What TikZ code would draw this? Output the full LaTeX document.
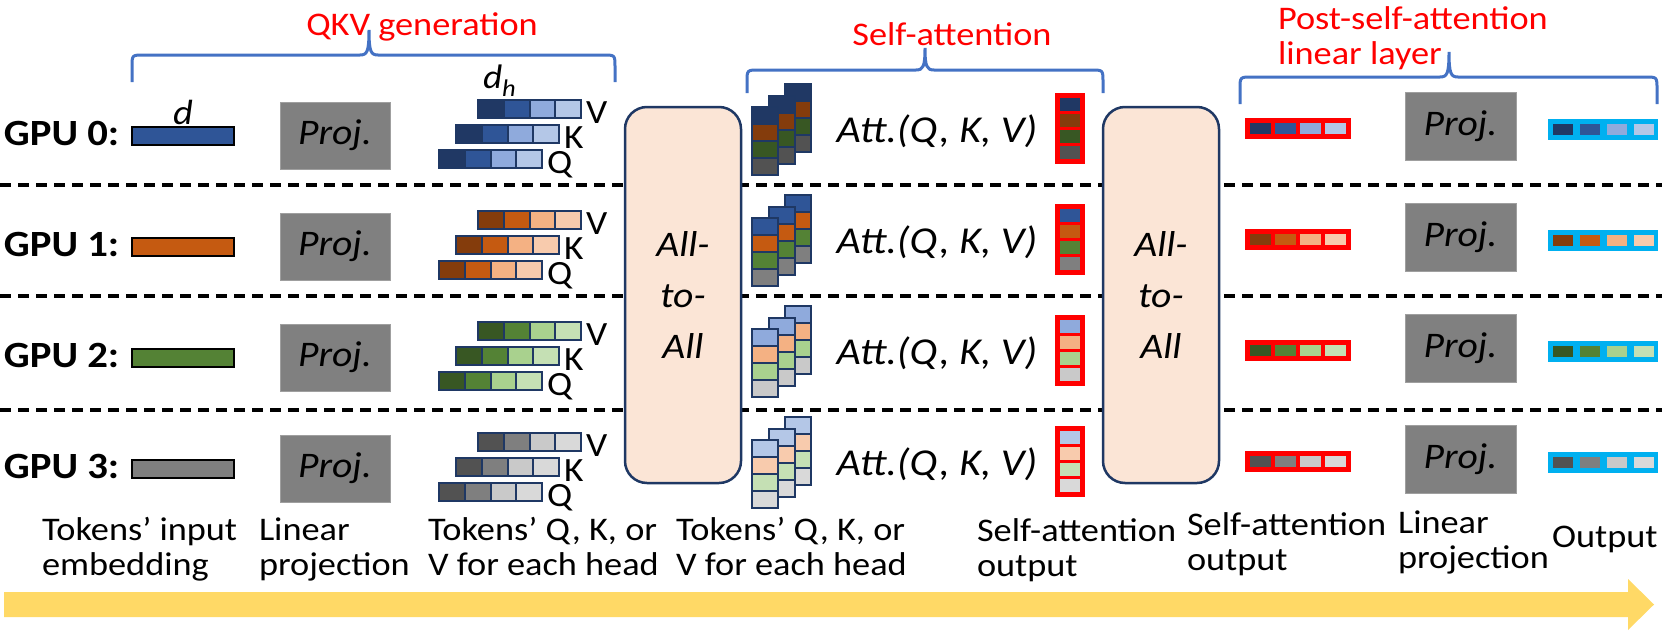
\documentclass[tikz,border=0pt]{standalone}
\usepackage{fontspec}
\setmainfont{Carlito}[FakeStretch=1.1]
\definecolor{c01}{HTML}{203864}
\definecolor{c02}{HTML}{2F5597}
\definecolor{c03}{HTML}{8FAADC}
\definecolor{c04}{HTML}{B4C7E7}
\definecolor{c11}{HTML}{843C0C}
\definecolor{c12}{HTML}{C55A11}
\definecolor{c13}{HTML}{F4B183}
\definecolor{c14}{HTML}{F8CBAD}
\definecolor{c21}{HTML}{385723}
\definecolor{c22}{HTML}{548235}
\definecolor{c23}{HTML}{A9D18E}
\definecolor{c24}{HTML}{C5E0B4}
\definecolor{c31}{HTML}{525252}
\definecolor{c32}{HTML}{7F7F7F}
\definecolor{c33}{HTML}{C9C9C9}
\definecolor{c34}{HTML}{D9D9D9}
\definecolor{navy}{HTML}{1F3864}
\definecolor{bracec}{HTML}{4472C4}
\definecolor{peach}{HTML}{FBE5D6}
\definecolor{projgray}{HTML}{808080}
\definecolor{cyanb}{HTML}{00B0F0}
\definecolor{arrowy}{HTML}{FFD966}
\definecolor{redc}{HTML}{FF0000}
\newcommand\twoline[2]{\begin{tabular}[t]{@{}l@{}}#1\\#2\end{tabular}}
\newcommand\mybrace[6]{%
  \draw[bracestyle] (#1,#5) -- (#1,#4+12) .. controls (#1,#4) and (#1,#4) .. (#1+12,#4)
    -- (#3-9,#4) .. controls (#3-2,#4) and (#3,#4-3) .. (#3,#6)
    .. controls (#3,#4-3) and (#3+2,#4) .. (#3+9,#4)
    -- (#2-12,#4) .. controls (#2,#4) and (#2,#4) .. (#2,#4+12) -- (#2,#5);}
\begin{document}
\begin{tikzpicture}[x=1pt,y=-1pt,
  every node/.style={inner sep=0pt,outer sep=0pt},
  txt/.style={font=\fontsize{33}{35}\selectfont},
  redlab/.style={txt,text=redc},
  gpu/.style={font=\fontsize{37}{40}\selectfont\bfseries},
  projbox/.style={fill=projgray,draw=gray!75,line width=1pt,minimum width=110pt,minimum height=67pt,font=\fontsize{36}{38}\selectfont\itshape},
  a2a/.style={fill=peach,draw=navy,line width=2.5pt,rounded corners=22pt,minimum width=116pt,minimum height=376pt,align=center,font=\fontsize{36}{51}\selectfont\itshape},
  att/.style={font=\fontsize{38}{40}\selectfont\itshape},
  vkq/.style={font=\fontsize{34}{36}\selectfont},
  qcell/.style={draw=navy,line width=2pt},
  incell/.style={draw=black,line width=2.5pt},
  dashline/.style={line width=4pt,dash pattern=on 11pt off 7pt},
  bracestyle/.style={draw=bracec,line width=3pt},
]
\useasboundingbox (0,0) rectangle (1662,632);
\foreach \yy in {185,296,410} \draw[dashline] (0,\yy) -- (1662,\yy);
% braces and headers
\mybrace{132}{615}{369}{55}{82}{30}
\mybrace{747}{1103}{925}{70}{93}{48}
\mybrace{1240}{1657}{1449}{77}{104}{52}
\node[redlab,anchor=base] (qkvlab) at (422,35) {QKV generation};
\node[redlab,anchor=base] (salab) at (952,45) {Self-attention};
\node[redlab,anchor=base west] (postlab) at (1278,29) {\twoline{Post-self-attention}{linear layer}};
% all-to-all boxes
\node[a2a] (a2a1) at (683,295) {All-\\to-\\All};
\node[a2a] (a2a2) at (1161,295) {All-\\to-\\All};
% rows
\foreach \r/\rc in {0/136,1/247,2/358,3/469}{
  \pgfmathtruncatemacro\s{\r+1}
  \node[gpu,anchor=base west] (gpu\r) at (4,\rc+9) {GPU \r:};
  \filldraw[incell,fill=c\r2] (132,\rc-9) rectangle (234,\rc+9);
  \node[projbox] (pl\r) at (335,\rc-0.5) {Proj.};
  \foreach \k/\xx/\dy/\lab in {0/478/-36/V,1/456/-11/K,2/439/14/Q}{
    \foreach \j in {1,...,4}{
      \filldraw[qcell,fill=c\r\j] (\xx+25.75*\j-25.75,\rc+\dy) rectangle (\xx+25.75*\j,\rc+\dy+18);
    }
    \node[vkq,anchor=base west] (lab\r\k) at (\xx+108,\rc+\dy+23) {\lab};
  }
  \foreach \c in {2,1,0}{
    \foreach \i in {0,...,3}{
      \filldraw[qcell,fill=c\i\s] (752+16.5*\c,\rc-29-11.5*\c+17*\i) rectangle ++(26,17);
    }
  }
  \node[att,anchor=base] (att\r) at (937,\rc+6) {Att.(Q, K, V)};
  \fill[redc] (1055,\rc-43) rectangle (1085,\rc+28);
  \foreach \i in {0,...,3}{\fill[c\i\s] (1060,\rc-38+16*\i) rectangle ++(20,13);}
  \fill[redc] (1245,\rc-18) rectangle (1351,\rc+3);
  \foreach \j in {1,...,4}{\fill[c\r\j] (1250+25*\j-25,\rc-13) rectangle ++(21,11);}
  \node[projbox,minimum width=111pt,minimum height=68pt] (pr\r) at (1460.5,\rc-10) {Proj.};
  \fill[cyanb] (1548,\rc-17) rectangle (1658,\rc+4);
  \foreach \j in {1,...,4}{\fill[c\r\j] (1553+27*\j-27,\rc-12) rectangle ++(20,11);}
}
\node[font=\fontsize{35}{36}\selectfont\itshape,anchor=base] (dlab) at (183,124) {d};
\node[font=\fontsize{34}{36}\selectfont\itshape,anchor=base west] (dhlab) at (483,88) {d\raisebox{-8pt}{\fontsize{24}{24}\selectfont h}};
% bottom labels
\node[txt,anchor=base west] (b1) at (42,540) {\twoline{Tokens’ input}{embedding}};
\node[txt,anchor=base west] (b2) at (259,540) {\twoline{Linear}{projection}};
\node[txt,anchor=base west] (b3) at (428,540) {\twoline{Tokens’ Q, K, or}{V for each head}};
\node[txt,anchor=base west] (b4) at (676,540) {\twoline{Tokens’ Q, K, or}{V for each head}};
\node[txt,anchor=base west] (b5) at (977,541) {\twoline{Self-attention}{output}};
\node[txt,anchor=base west] (b6) at (1187,535) {\twoline{Self-attention}{output}};
\node[txt,anchor=base west] (b7) at (1398,533) {\twoline{Linear}{projection}};
\node[txt,anchor=base west] (b8) at (1552,547) {Output};
% progress arrow
\fill[arrowy] (4,592) -- (1628,592) -- (1628,579) -- (1654,604.5) -- (1628,630) -- (1628,617) -- (4,617) -- cycle;
\end{tikzpicture}
\end{document}
